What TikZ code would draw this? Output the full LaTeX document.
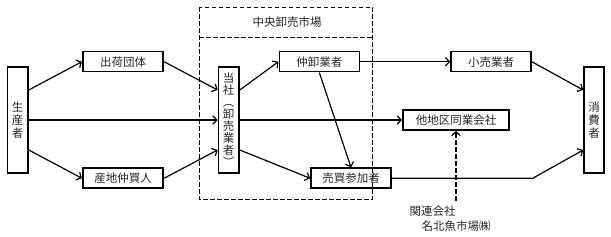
\documentclass[tikz,border=0pt]{standalone}
\usepackage{fontspec}
\usepackage{graphicx}
\setmainfont{Noto Sans CJK JP}
\usetikzlibrary{arrows.meta,calc}
\tikzset{
  box/.style={draw,line width=1.6pt,rectangle,inner sep=0pt,minimum height=20pt,font=\fontsize{11.5}{13}\selectfont,text=black!85},
  vbox/.style={draw,line width=1.6pt,rectangle,inner sep=0pt,minimum width=20.5pt,minimum height=106.5pt,align=center,font=\fontsize{11.5}{12.8}\selectfont,text=black!85},
  arr/.style={line width=1.2pt,-{Straight Barb[length=4pt,width=8.5pt,line width=1.2pt]}},
  dashline/.style={line width=1.3pt,dash pattern=on 4.5pt off 2.5pt},
  lbl/.style={inner sep=0pt,font=\fontsize{11.5}{13}\selectfont,text=black!85}
}
\begin{document}
\begin{tikzpicture}[x=1pt,y=-1pt]
\useasboundingbox (0,0) rectangle (611,237);
% dashed market frame
\draw[dashline] (199.3,7.3) rectangle (372.7,199.3);
\draw[dashline] (199.3,37.3) -- (372.7,37.3);
\node[lbl] (market) at (287,22.5) {中央卸売市場};
% nodes
\node[vbox] (seisan) at (17.7,120) {生\\産\\者};
\node[box,minimum width=80.5pt] (shukka) at (123,61.7) {出荷団体};
\node[box,minimum width=80.5pt] (sanchi) at (123,178.3) {産地仲買人};
\node[vbox,font=\fontsize{11.5}{12}\selectfont] (tosha) at (228.7,120) {当\\社\\︵\\卸\\売\\業\\者\\︶};
\node[box,minimum width=80pt] (naka) at (319.3,61.7) {仲卸業者};
\node[box,minimum width=80pt] (kouri) at (491,61.7) {小売業者};
\node[box,minimum width=106.5pt] (tachiku) at (456,120) {他地区同業会社};
\node[box,minimum width=80pt] (baibai) at (351,178.3) {売買参加者};
\node[vbox,minimum width=20pt] (shohi) at (594,120) {消\\費\\者};
\node[lbl,anchor=north west] (kanren) at (409.5,205.5) {関連会社};
\node[lbl,anchor=north west] (meihoku) at (421.5,220.5) {名北魚市場㈱};
\coordinate (dstart) at (456,201);
\coordinate (bend) at (532.7,178.3);
% connectors
\draw[arr] ([yshift=30pt]seisan.east) -- (shukka.west);
\draw[arr] (seisan.east) -- (tosha.west);
\draw[arr] ([yshift=-30pt]seisan.east) -- (sanchi.west);
\draw[arr] (shukka.east) -- ([yshift=30pt]tosha.west);
\draw[arr] (sanchi.east) -- ([yshift=-30pt]tosha.west);
\draw[arr] ([yshift=30pt]tosha.east) -- (naka.west);
\draw[arr] (tosha.east) -- (tachiku.west);
\draw[arr] ([yshift=-30pt]tosha.east) -- (baibai.west);
\draw[arr] (naka.east) -- (kouri.west);
\draw[arr] (naka.south) -- (baibai.north);
\draw[arr] (kouri.east) -- ([yshift=30pt]shohi.west);
\draw[arr] (baibai.east) -- (bend) -- ([yshift=-30pt]shohi.west);
\draw[arr,dash pattern=on 4.5pt off 2.5pt] (dstart) -- (tachiku.south);
\end{tikzpicture}
\end{document}
